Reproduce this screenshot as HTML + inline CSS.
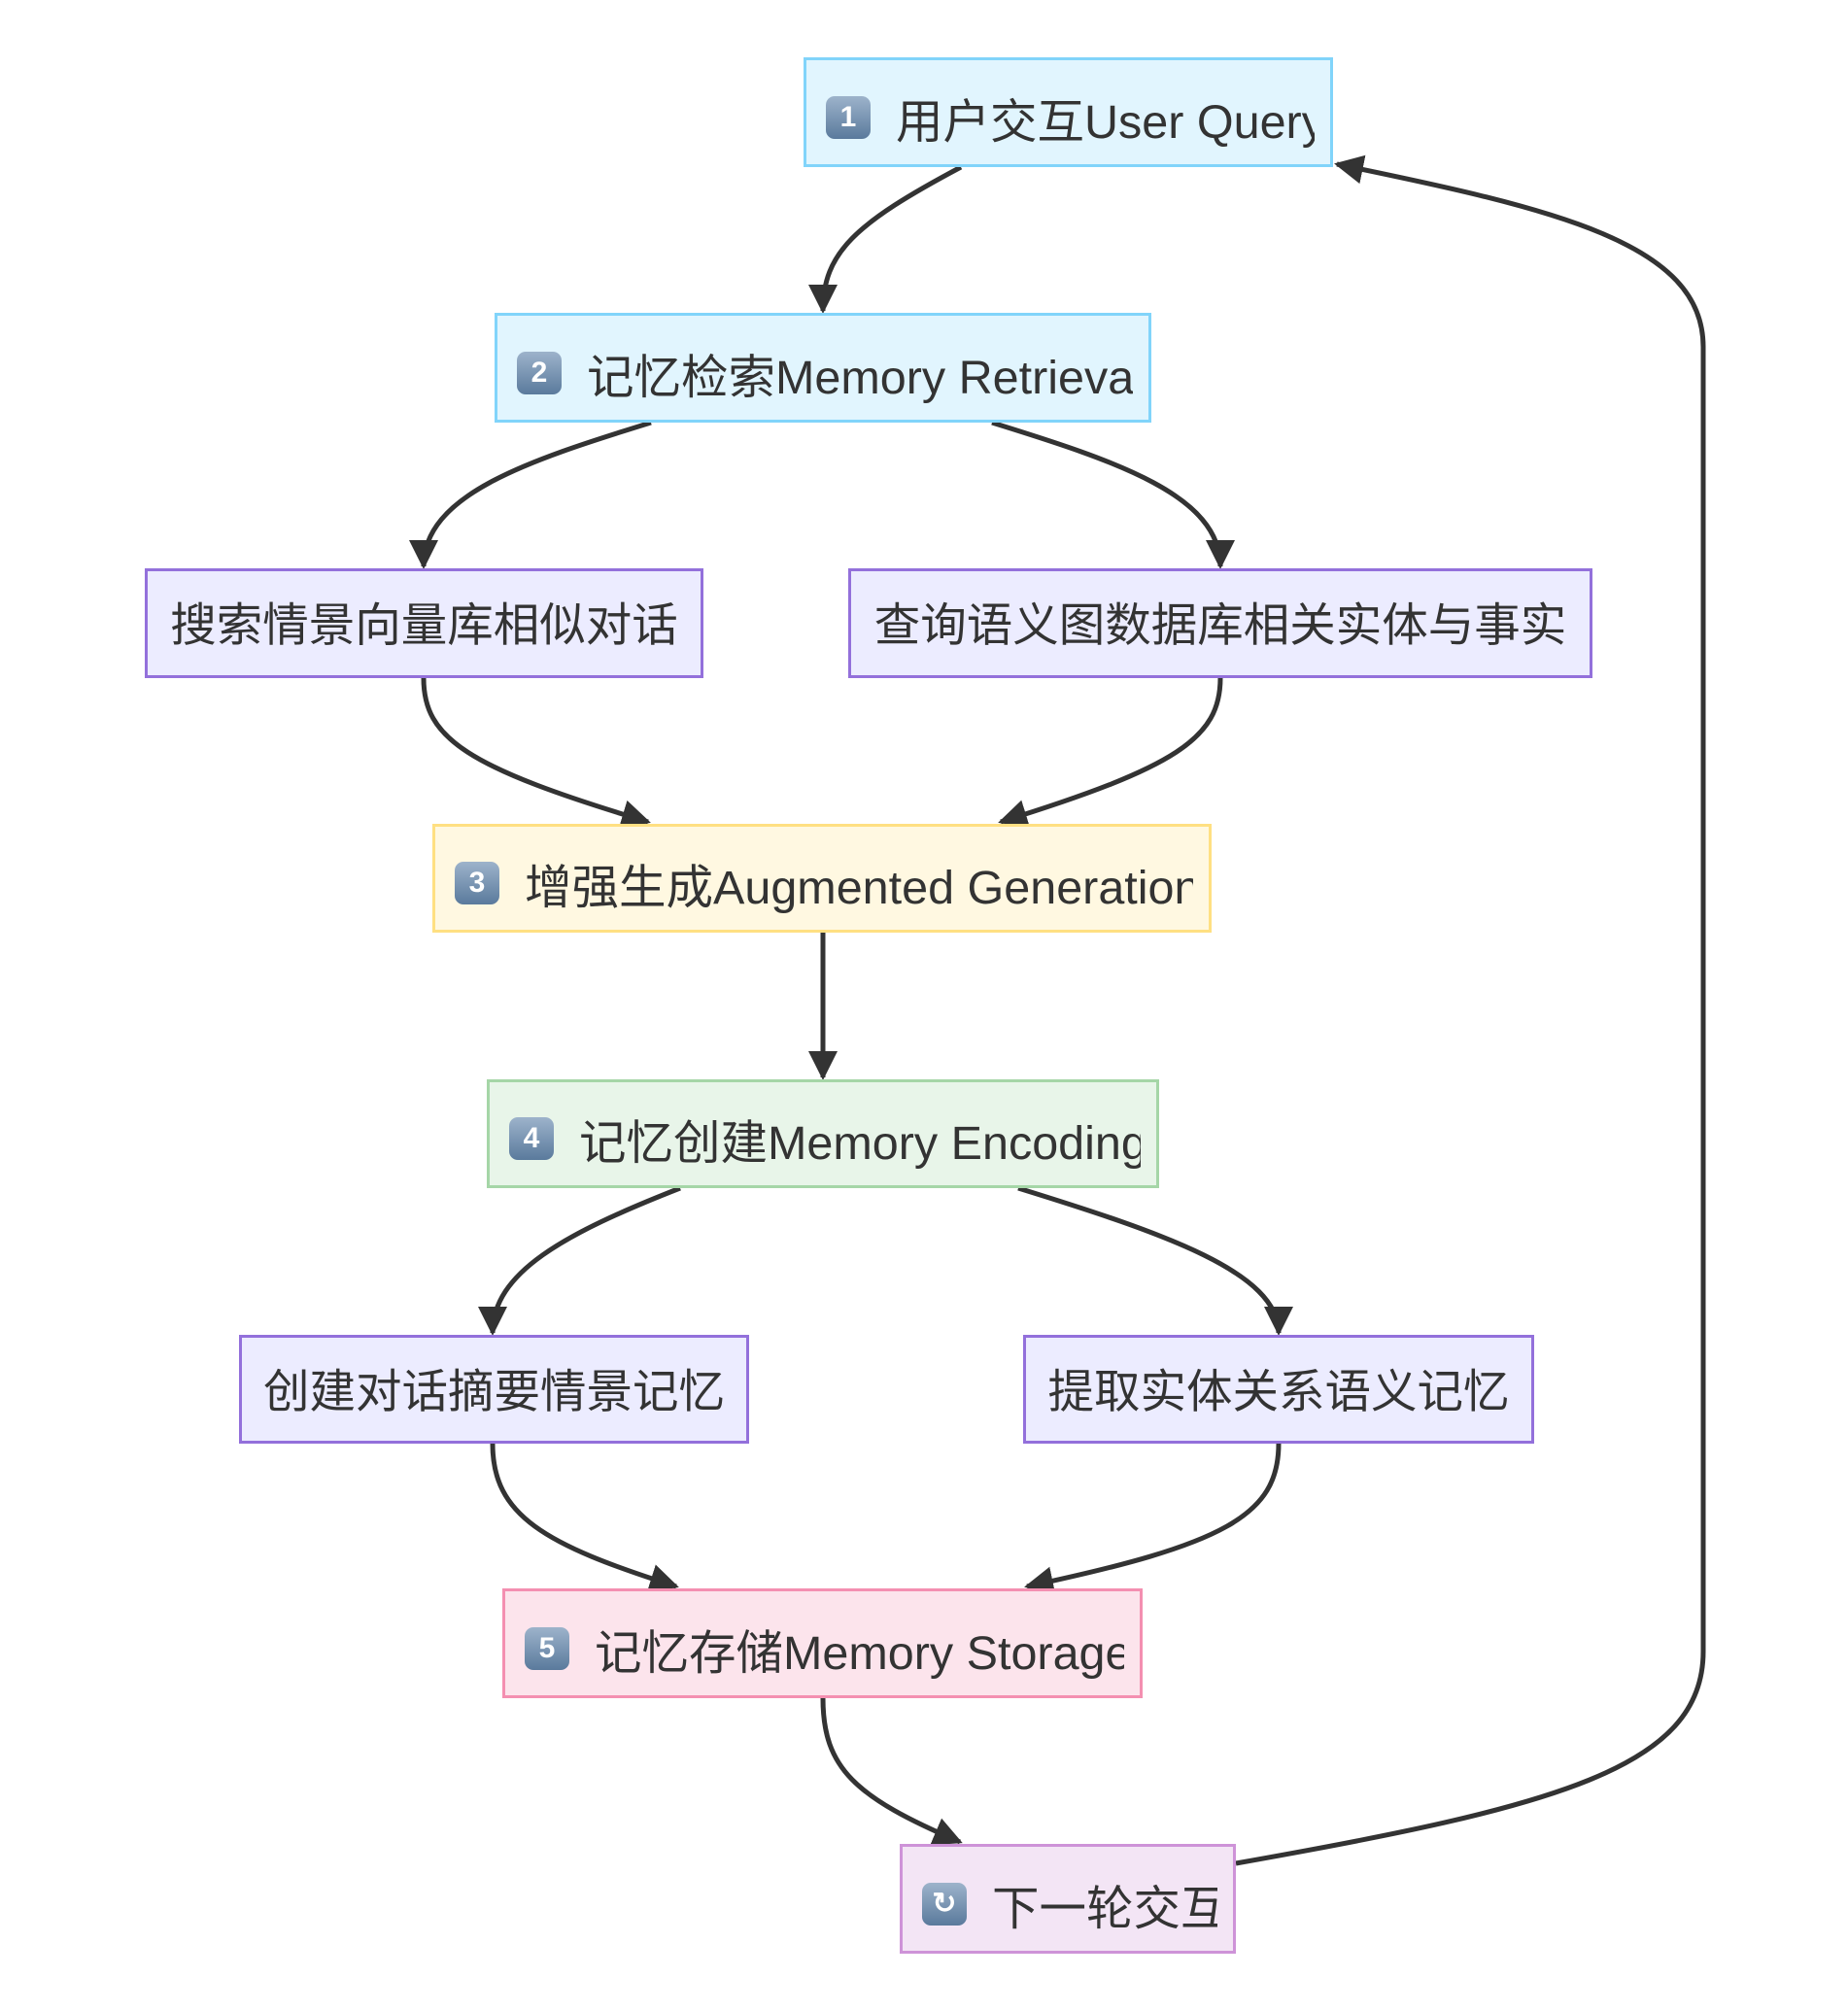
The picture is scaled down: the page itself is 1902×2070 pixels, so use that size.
<!DOCTYPE html>
<html><head><meta charset="utf-8"><style>
html,body{margin:0;padding:0;background:#fff;}
body{width:1902px;height:2070px;position:relative;overflow:hidden;font-family:"Liberation Sans","Noto Sans CJK SC",sans-serif;color:#333;}
.n{position:absolute;box-sizing:border-box;border:3px solid;display:flex;align-items:center;}
.c{justify-content:center;font-size:47.5px;white-space:nowrap;padding-bottom:4px;}
.l .in{position:absolute;left:20px;right:16px;top:10px;bottom:0;overflow:hidden;display:flex;align-items:center;white-space:nowrap;font-size:48.5px;}
.k{display:inline-block;width:46px;height:44px;border-radius:9px;background:linear-gradient(#9db3cb,#5a7a9c);color:#fff;font-size:30px;line-height:44px;text-align:center;margin-right:26px;flex:none;font-weight:bold;}
.b{background:#e1f5fe;border-color:#81d4fa}
.p{background:#ececff;border-color:#9370db}
.y{background:#fff8e1;border-color:#ffe082}
.g{background:#e8f5e9;border-color:#a5d6a7}
.r{background:#fce4ec;border-color:#f48fb1}
.v{background:#f3e5f5;border-color:#ce93d8}
svg{position:absolute;left:0;top:0;}
</style></head><body>
<svg width="1902" height="2070" viewBox="0 0 1902 2070">
<defs><marker id="a" markerUnits="userSpaceOnUse" markerWidth="30" markerHeight="30" viewBox="0 0 10 10" refX="9" refY="5" orient="auto"><path d="M0,0 L10,5 L0,10 z" fill="#333"/></marker></defs>
<g fill="none" stroke="#333" stroke-width="5" marker-end="url(#a)">
<path d="M989,172 C880,230 847,260 847,320"/>
<path d="M670,435 C540,475 436,510 436,583"/>
<path d="M1021,435 C1150,475 1256,510 1256,583"/>
<path d="M436,698 C436,760 480,790 667,846"/>
<path d="M1256,698 C1256,760 1210,790 1030,846"/>
<path d="M847,960 L847,1109"/>
<path d="M700,1223 C580,1270 507,1310 507,1372"/>
<path d="M1048,1223 C1200,1270 1316,1310 1316,1372"/>
<path d="M507,1486 C507,1560 560,1590 696,1633"/>
<path d="M1316,1486 C1316,1560 1260,1590 1057,1633"/>
<path d="M847,1748 C847,1820 880,1850 988,1896"/>
<path d="M1272,1918 C1600,1860 1753,1820 1753,1700 L1753,357 C1753,250 1600,215 1376,169"/>
</g></svg>
<div class="n l b" style="left:827px;top:59px;width:545px;height:113px"><div class="in"><span class="k">1</span>用户交互User Query</div></div>
<div class="n l b" style="left:509px;top:322px;width:676px;height:113px"><div class="in"><span class="k">2</span>记忆检索Memory Retrieval</div></div>
<div class="n c p" style="left:149px;top:585px;width:575px;height:113px">搜索情景向量库相似对话</div>
<div class="n c p" style="left:873px;top:585px;width:766px;height:113px">查询语义图数据库相关实体与事实</div>
<div class="n l y" style="left:445px;top:848px;width:802px;height:112px"><div class="in"><span class="k">3</span>增强生成Augmented Generation</div></div>
<div class="n l g" style="left:501px;top:1111px;width:692px;height:112px"><div class="in"><span class="k">4</span>记忆创建Memory Encoding</div></div>
<div class="n c p" style="left:246px;top:1374px;width:525px;height:112px">创建对话摘要情景记忆</div>
<div class="n c p" style="left:1053px;top:1374px;width:526px;height:112px">提取实体关系语义记忆</div>
<div class="n l r" style="left:517px;top:1635px;width:659px;height:113px"><div class="in"><span class="k">5</span>记忆存储Memory Storage</div></div>
<div class="n l v" style="left:926px;top:1898px;width:346px;height:113px"><div class="in"><span class="k">↻</span>下一轮交互</div></div>
</body></html>
